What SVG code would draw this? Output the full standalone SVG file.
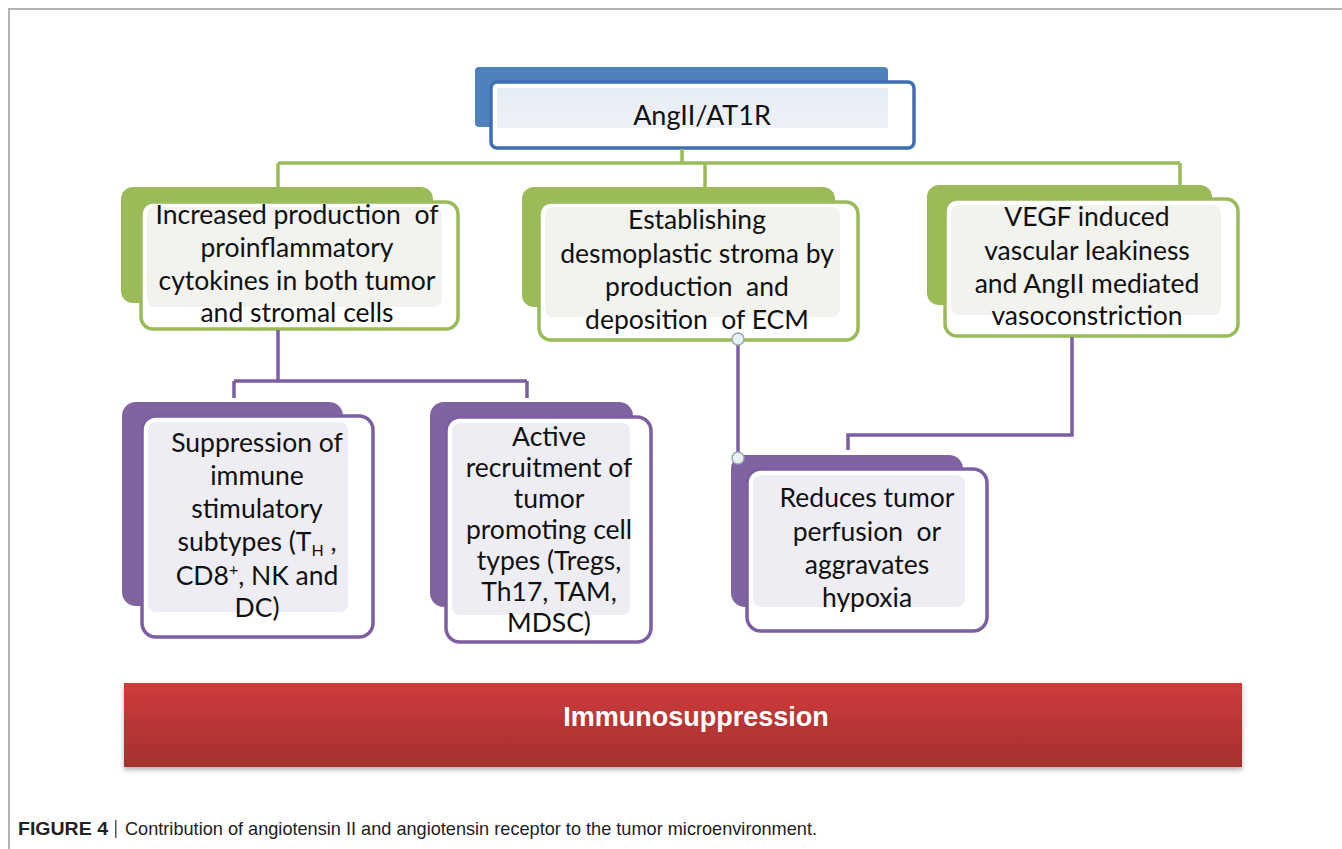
<svg xmlns="http://www.w3.org/2000/svg" width="1342" height="849" viewBox="0 0 1342 849">
<style>
.t{font-family:Lato,"Liberation Sans",sans-serif;font-size:26.5px;fill:#111;text-anchor:middle;white-space:pre}
.gb{fill:#9bbb59}
.gf{fill:#fff;stroke:#9bbb59;stroke-width:3.5}
.gi{fill:#f2f2ef}
.pb{fill:#8064a2}
.pf{fill:#fff;stroke:#7b5fa0;stroke-width:3.5}
.pi{fill:#efedf4}
.gc{fill:none;stroke:#9bbb59;stroke-width:3.5}
.pc{fill:none;stroke:#7b5fa0;stroke-width:3.5}
.cap{font-family:"Liberation Sans",Arial,sans-serif;font-size:19px;fill:#222}
.dot{fill:#e9f2f2;stroke:#9aa9b0;stroke-width:1.5}
</style>
<defs>
<linearGradient id="red" x1="0" y1="0" x2="0" y2="1">
<stop offset="0" stop-color="#cf3b3b"/>
<stop offset="1" stop-color="#a3302e"/>
</linearGradient>
<linearGradient id="blueIn" x1="0" y1="0" x2="0" y2="1">
<stop offset="0" stop-color="#e6ecf6"/>
<stop offset="1" stop-color="#eef2f8"/>
</linearGradient>
<filter id="sh" x="-5%" y="-20%" width="110%" height="150%">
<feDropShadow dx="0" dy="3" stdDeviation="2.5" flood-color="#000" flood-opacity="0.3"/>
</filter>
</defs>
<rect width="1342" height="849" fill="#fff"/>
<path d="M9 849 V9 H1342" fill="none" stroke="#b3b3b3" stroke-width="2"/>

<g id="n-angii">
<rect x="475" y="67" width="413" height="60" rx="4" fill="#4f81bd"/>
<rect x="491" y="82" width="423" height="66" rx="6" fill="#fff" stroke="#3e6fb6" stroke-width="3.5"/>
<rect x="497" y="88" width="391" height="40" fill="url(#blueIn)"/>
<text x="702" y="125" style="font-family:Lato,'Liberation Sans',sans-serif;font-size:27px;fill:#111;text-anchor:middle">AngII/AT1R</text>
</g>

<g id="n-cytokines">
<rect class="gb" x="121" y="187" width="312" height="116" rx="12"/>
<rect class="gf" x="141" y="202" width="317" height="127" rx="12"/>
<rect class="gi" x="147" y="207" width="295" height="100" rx="8"/>
<text class="t" x="297" y="224">Increased production  of</text>
<text class="t" x="297" y="257">proinflammatory</text>
<text class="t" x="297" y="290">cytokines in both tumor</text>
<text class="t" x="297" y="322">and stromal cells</text>
</g>

<g id="n-stroma">
<rect class="gb" x="522" y="187" width="313" height="120" rx="12"/>
<rect class="gf" x="539" y="202" width="319" height="138" rx="12"/>
<rect class="gi" x="545" y="207" width="295" height="110" rx="8"/>
<text class="t" x="697" y="229">Establishing</text>
<text class="t" x="697" y="263">desmoplastic stroma by</text>
<text class="t" x="697" y="296">production  and</text>
<text class="t" x="697" y="329">deposition  of ECM</text>
</g>

<g id="n-vegf">
<rect class="gb" x="927" y="185" width="285" height="120" rx="12"/>
<rect class="gf" x="945" y="199" width="293" height="137" rx="12"/>
<rect class="gi" x="951" y="205" width="270" height="110" rx="8"/>
<text class="t" x="1087" y="226">VEGF induced</text>
<text class="t" x="1087" y="260">vascular leakiness</text>
<text class="t" x="1087" y="293">and AngII mediated</text>
<text class="t" x="1087" y="325">vasoconstriction</text>
</g>

<g id="n-suppression">
<rect class="pb" x="122" y="402" width="221" height="204" rx="14"/>
<rect class="pf" x="142" y="416" width="231" height="221" rx="14"/>
<rect class="pi" x="148" y="422" width="200" height="190" rx="8"/>
<text class="t" x="257" y="452">Suppression of</text>
<text class="t" x="257" y="485">immune</text>
<text class="t" x="257" y="518">stimulatory</text>
<text class="t" x="257" y="551">subtypes (T<tspan font-size="16" dy="5">H</tspan><tspan dy="-5"> ,</tspan></text>
<text class="t" x="257" y="585">CD8<tspan font-size="16" dy="-10">+</tspan><tspan dy="10">, NK and</tspan></text>
<text class="t" x="257" y="617">DC)</text>
</g>

<g id="n-recruitment">
<rect class="pb" x="430" y="402" width="203" height="205" rx="14"/>
<rect class="pf" x="446" y="417" width="205" height="225" rx="14"/>
<rect class="pi" x="452" y="423" width="178" height="192" rx="8"/>
<text class="t" x="549" y="446">Active</text>
<text class="t" x="549" y="477">recruitment of</text>
<text class="t" x="549" y="508">tumor</text>
<text class="t" x="549" y="539">promoting cell</text>
<text class="t" x="549" y="570">types (Tregs,</text>
<text class="t" x="549" y="601">Th17, TAM,</text>
<text class="t" x="549" y="632">MDSC)</text>
</g>

<g id="n-perfusion">
<rect class="pb" x="731" y="455" width="232" height="152" rx="14"/>
<rect class="pf" x="747" y="469" width="240" height="162" rx="14"/>
<rect class="pi" x="753" y="475" width="212" height="132" rx="8"/>
<text class="t" x="867" y="507">Reduces tumor</text>
<text class="t" x="867" y="541">perfusion  or</text>
<text class="t" x="867" y="574">aggravates</text>
<text class="t" x="867" y="607">hypoxia</text>
</g>

<g id="n-immuno">
<rect x="124" y="683" width="1118" height="84" fill="url(#red)" filter="url(#sh)"/>
<text x="696" y="726" style="font-family:'Liberation Sans',Arial,sans-serif;font-size:27px;font-weight:bold;fill:#fff;text-anchor:middle">Immunosuppression</text>
</g>

<g id="connectors">
<path class="gc" d="M682 149 V163 M278 163 H1180 M278 163 V188 M705 163 V188 M1180 163 V188"/>
<path class="pc" d="M278 330 V381 M234 381 H527 M234 381 V398 M527 381 V398"/>
<path class="pc" d="M738 340 V458"/>
<path class="pc" d="M1072 337 V435 H848 V450"/>
<circle class="dot" cx="738" cy="339" r="6"/>
<circle class="dot" cx="738" cy="458" r="6"/>
</g>

<g id="caption">
<text class="cap" x="18" y="835" font-weight="bold" textLength="90" lengthAdjust="spacingAndGlyphs">FIGURE 4</text>
<rect x="115" y="820" width="1.5" height="18" fill="#555"/>
<text class="cap" x="125" y="835" textLength="692" lengthAdjust="spacingAndGlyphs">Contribution of angiotensin II and angiotensin receptor to the tumor microenvironment.</text>
</g>
</svg>
